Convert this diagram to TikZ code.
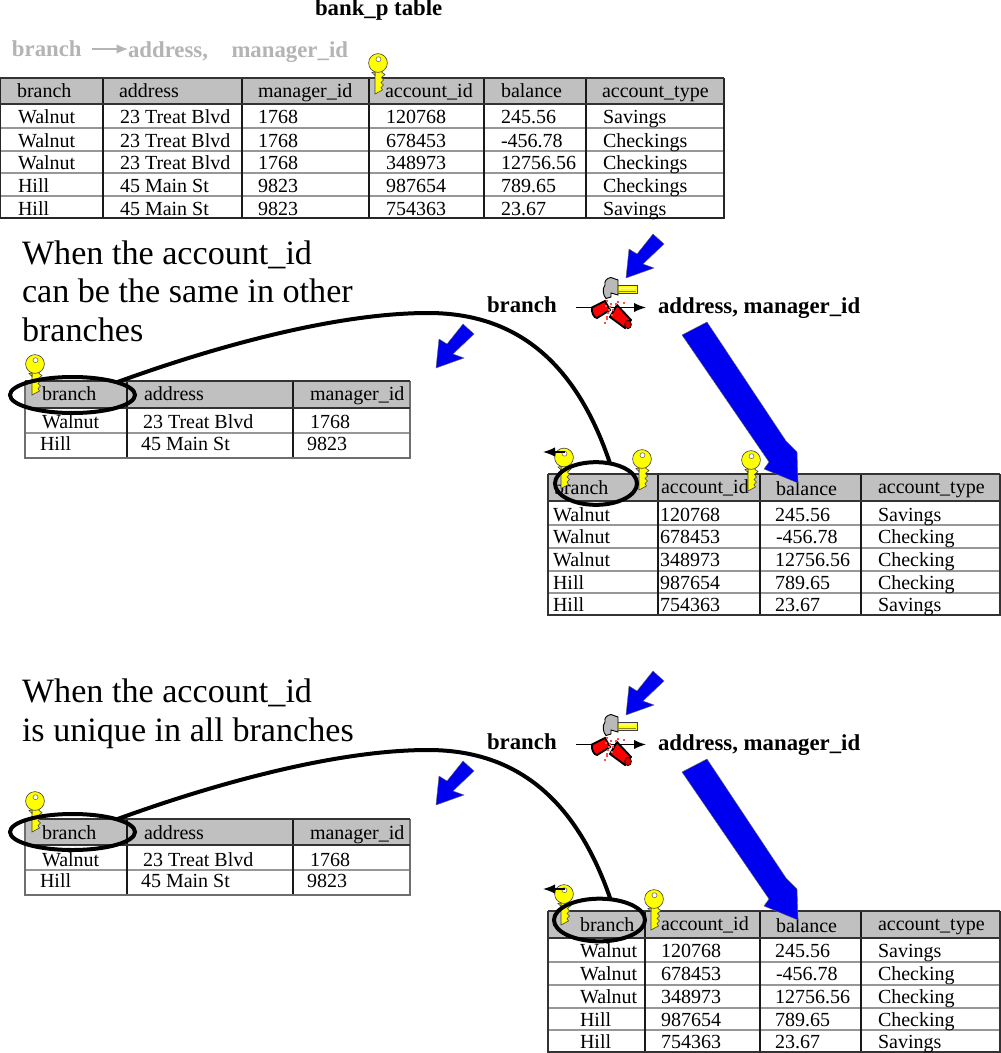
\documentclass[tikz,border=0pt]{standalone}
\usepackage{fontspec}
\setmainfont{Liberation Serif}
\usetikzlibrary{shapes.geometric,arrows.meta}
\definecolor{hdr}{HTML}{C0C0C0}
\definecolor{grayt}{HTML}{B4B4B4}
\definecolor{keyy}{HTML}{FFFF00}
\definecolor{rowg}{HTML}{979797}
\definecolor{outerg}{HTML}{6E6E6E}
\definecolor{bluea}{HTML}{0000F0}
\newcounter{cellno}
\tikzset{
  cell/.style={anchor=base west,inner sep=0pt,outer sep=0pt,font=\fontsize{15}{15}\selectfont},
  big/.style={anchor=base west,inner sep=0pt,outer sep=0pt,font=\fontsize{25.6}{25.6}\selectfont},
  boldt/.style={anchor=base west,inner sep=0pt,outer sep=0pt,font=\fontsize{17.1}{17.1}\selectfont\bfseries},
  ring/.style={ellipse,draw=black,line width=3pt,inner sep=0pt,outer sep=0pt,fill=none},
  linkcurve/.style={draw=black,line width=3pt},
  blockarrow/.style={fill=bluea,draw=black!60,line width=.3pt},
  thinarrow/.style={draw=black,line width=1.1pt,-{Latex[length=9pt,width=7pt]}},
  keybody/.style={fill=keyy,draw=black!75,line width=.45pt}
}
% #1 baseline y, #2 list x/text
\newcommand\cellrow[2]{\foreach \cx/\ct in {#2}{\stepcounter{cellno}\node[cell] (cell\arabic{cellno}) at (\cx,#1) {\ct};}}
% #1 xs, #2 ys, #3 x0, #4 x1, #5 y0, #6 header bottom, #7 y1, #8 right/bottom colour
\newcommand\tablegrid[8]{
  \fill[hdr] (#3,#5) rectangle (#4,#6);
  \foreach \yy in {#2}{\draw[rowg,line width=1.1pt] (#3,\yy) -- (#4,\yy);}
  \foreach \xx in {#1}{\draw[black!90,line width=.9pt] (\xx,#5) -- (\xx,#7);}
  \draw[#8,line width=1.1pt] (#4,#5) -- (#4,#7) -- (#3,#7) -- (#3,#5);
  \draw[black!80,line width=1.2pt] (#3,#5) -- (#4,#5);
  \draw[black!80,line width=1.3pt] (#3,#6) -- (#4,#6);
}
\newcommand\keyat[1]{\begin{scope}[shift={#1}]
  \draw[keybody] (-3,7) -- (-3,12) -- (-3,31) -- (4.5,27) -- (3,24.5) -- (5.5,22) -- (3,19.5) -- (5.5,17) -- (3.5,14.5) -- (7,11.5) -- (4,9.5) -- (4,7) -- cycle;
  \draw[keybody] (-6,9.5) -- (-3,9) -- (-3,12.5) -- cycle;
  \draw[keybody] (0,0) circle (9.4);
  \draw[fill=white,draw=black!60,line width=.4pt] (0.5,-3.8) circle (2.5);
\end{scope}}
% #1 shift
\newcommand\bluesmall[1]{\filldraw[blockarrow,shift={#1}] (0,0) -- (3,-29) -- (11,-24) -- (27,-44) -- (38,-34) -- (17,-14) -- (28,-10) -- cycle;}
\newcommand\bluebig[1]{\filldraw[blockarrow,shift={#1}] (682,335) -- (707,322) -- (786,441) -- (797,452) -- (798,483) -- (764,469) -- (769,462) -- cycle;}
\newcommand\breaktool[2]{\begin{scope}[shift={#1}]
  % hammer
  \fill[keyy,draw=black!75,line width=.6pt] (617,285) rectangle (637,293);
  \fill[white!40!keyy] (619,287) rectangle (635,288.5);
  \fill[black!45!keyy] (619,290.5) rectangle (636,292);
  \fill[gray!55,draw=black,line width=.7pt] (618,280) -- (611,277.5) .. controls (607,278) and (604,281) .. (605,285) .. controls (602,289) and (603,295) .. (606,298.5) -- (611,297) -- (611,293) -- (618,295) -- cycle;
  % broken pipe arrow
  \draw[thinarrow] (576,307.5) -- (646,307.5);
  \draw[fill=red,draw=black,line width=1.4pt] (592,307.5) -- (605,301) -- (610,310) -- (597,318) .. controls (594,318) and (591,312) .. (592,307.5) -- cycle;
  \draw[fill=red,draw=black,line width=1.4pt] (617,305) -- (631,320) -- (625,328) -- (610,317) -- cycle;
  \draw[fill=red!85!black,draw=black,line width=.5pt] (628,324.5) ellipse (3.4 and 4.2);
  \foreach \px/\py in {606/300,610/303,612/309,607/312,606/316,604/322,606/318,615/303,611/314,609/306,617/301,623/302,605/305,608/309}{\fill[red!70!white] (\px,\py) rectangle +(1.5,1.5);}
\end{scope}}
\begin{document}
\begin{tikzpicture}[x=0.75pt,y=-0.75pt]
\useasboundingbox (0,0) rectangle (1000,1053);
\fill[white] (0,0) rectangle (1000,1053);
% headings
\node[boldt] (title) at (315,16) {bank\_p table};
\node[boldt,text=grayt] (gb) at (12,56) {branch};
\node[boldt,text=grayt] (ga) at (128,57) {address,};
\node[boldt,text=grayt] (gm) at (231.5,57) {manager\_id};
\coordinate (gs) at (92,49);
\coordinate (ge) at (ga.west |- gs);
\draw[grayt,line width=.9pt,-{Latex[length=8.5pt,width=7pt]}] (gs) -- (ge);
% table 1
\tablegrid{103,242,369,484,586}{128,151,173,196}{0}{724}{78}{104}{218}{black!85}
\cellrow{97}{17/branch,119/address,258/manager\_id,385/account\_id,602/account\_type}
\cellrow{97}{501/balance}
\cellrow{123}{18/Walnut,120/23 Treat Blvd,258/1768,386/120768,501/245.56,603/Savings}
\cellrow{147}{18/Walnut,120/23 Treat Blvd,258/1768,386/678453,501/-456.78,603/Checkings}
\cellrow{169}{18/Walnut,120/23 Treat Blvd,258/1768,386/348973,501/12756.56,603/Checkings}
\cellrow{192}{18/Hill,120/45 Main St,258/9823,386/987654,501/789.65,603/Checkings}
\cellrow{215}{18/Hill,120/45 Main St,258/9823,386/754363,501/23.67,603/Savings}
\keyat{(378,63)}
% section 1 texts
\node[big] (w1a) at (22,264) {When the account\_id};
\node[big] (w1b) at (22,302) {can be the same in other};
\node[big] (w1c) at (22,341) {branches};
\node[boldt] (fb1) at (487,312) {branch};
\node[boldt] (fa1) at (658,313) {address, manager\_id};
\breaktool{(0,0)}{}
\bluesmall{(626,278)}
\bluesmall{(436,368)}
% table 2
\tablegrid{127,293}{433}{25}{410}{381}{408}{458}{outerg}
\cellrow{400}{42/branch,144/address,310/manager\_id}
\cellrow{428}{42/Walnut,143/23 Treat Blvd,310/1768}
\cellrow{450}{40/Hill,141/45 Main St,307/9823}
\keyat{(35,364)}
\node[ring,minimum width=93.75pt,minimum height=27pt] (r1) at (72.5,395) {};
% table 3
\tablegrid{658,760,861}{525,548,571,593}{548}{1000}{474}{501}{615}{black!80}
\cellrow{494}{554/branch}
\cellrow{493}{661/account\_id,878/account\_type}
\cellrow{495}{776/balance}
\cellrow{521}{553/Walnut,660/120768,775/245.56,878/Savings}
\cellrow{543}{553/Walnut,660/678453,776/-456.78,878/Checking}
\cellrow{566}{553/Walnut,660/348973,775/12756.56,878/Checking}
\cellrow{589}{553/Hill,660/987654,775/789.65,878/Checking}
\cellrow{611}{553/Hill,660/754363,775/23.67,878/Savings}
\keyat{(564,457.5)}
\keyat{(642,459)}
\keyat{(751,460)}
\coordinate (kl1) at (565,452);
\draw[thinarrow] (kl1) -- +(-22,0);
\node[ring,minimum width=61.5pt,minimum height=32pt] (r2) at (596,483.5) {};
\bluebig{(0,0)}
\draw[linkcurve] (r1.16) .. controls (222,344) and (340,313) .. (428,313) .. controls (505,313) and (572,350) .. (r2.55);
% section 2 texts
\node[big] (w2a) at (22,702) {When the account\_id};
\node[big] (w2b) at (22,741) {is unique in all branches};
\node[boldt] (fb2) at (487,749) {branch};
\node[boldt] (fa2) at (658,750) {address, manager\_id};
\breaktool{(0,437)}{}
\bluesmall{(626,715)}
\bluesmall{(436,805)}
% table 4
\tablegrid{127,293}{870}{25}{410}{819}{845}{895}{outerg}
\cellrow{839}{42/branch,144/address,310/manager\_id}
\cellrow{866}{42/Walnut,143/23 Treat Blvd,310/1768}
\cellrow{887}{40/Hill,141/45 Main St,307/9823}
\keyat{(35,801)}
\node[ring,minimum width=93.75pt,minimum height=27pt] (r3) at (72.5,832) {};
% table 5
\tablegrid{645,760,861}{962,985,1008,1030}{548}{1000}{911}{938}{1052}{black!80}
\cellrow{931}{580/branch}
\cellrow{930}{661/account\_id,878/account\_type}
\cellrow{932}{776/balance}
\cellrow{957}{580/Walnut,661/120768,775/245.56,878/Savings}
\cellrow{980}{580/Walnut,661/678453,776/-456.78,878/Checking}
\cellrow{1003}{580/Walnut,661/348973,775/12756.56,878/Checking}
\cellrow{1026}{580/Hill,661/987654,775/789.65,878/Checking}
\cellrow{1048}{580/Hill,661/754363,775/23.67,878/Savings}
\keyat{(564,894)}
\keyat{(654,899)}
\coordinate (kl2) at (565,889);
\draw[thinarrow] (kl2) -- +(-22,0);
\node[ring,minimum width=68.25pt,minimum height=32pt] (r4) at (599.5,920) {};
\bluebig{(0,437)}
\draw[linkcurve] (r3.16) .. controls (222,781) and (340,750) .. (428,750) .. controls (505,750) and (572,787) .. (r4.62);
\end{tikzpicture}
\end{document}
